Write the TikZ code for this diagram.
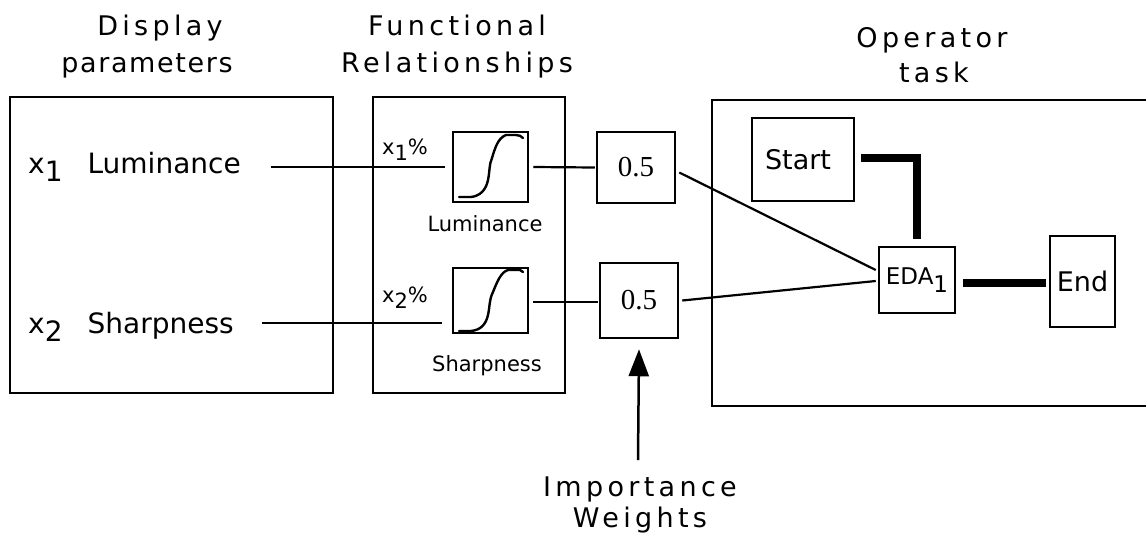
\documentclass[tikz,border=0pt]{standalone}
\usepackage{fontspec}
\setmainfont{DejaVu Sans}
\newfontfamily\serifnum{Liberation Serif}
\newfontfamily\headfont[LetterSpace=16]{DejaVu Sans}
\newfontfamily\headfontb[LetterSpace=6]{DejaVu Sans}
\usetikzlibrary{arrows.meta,calc}
\newcommand{\lowr}[1]{\raisebox{-0.32em}{#1}}
\begin{document}
\begin{tikzpicture}[x=1pt,y=-1pt,
  frame/.style={draw, line width=2.5pt, inner sep=0pt},
  smallbox/.style={draw, line width=2.5pt, inner sep=0pt, fill=white},
  head/.style={anchor=base, inner sep=0pt, font=\headfont\fontsize{27}{30}\selectfont},
  lbl/.style={anchor=base west, inner sep=0pt, font=\fontsize{28}{30}\selectfont},
  small/.style={inner sep=0pt, font=\fontsize{21}{24}\selectfont},
  thin/.style={line width=2.2pt},
  thick/.style={line width=8.5pt, line join=miter},
  curve/.style={line width=2.4pt, line cap=round, line join=round}
]
\useasboundingbox (0,0) rectangle (1146,536);

% headings
\node[head] (h1) at (160,35) {Display};
\node[head, font=\headfontb\fontsize{27}{30}\selectfont] (h2) at (147,72) {parameters};
\node[head] (h3) at (457,35) {Functional};
\node[head] (h4) at (457,72) {Relationships};
\node[head] (h5) at (932,47) {Operator};
\node[head] (h6) at (934,82) {task};
\node[head] (iw1) at (640,496) {Importance};
\node[head] (iw2) at (640,527) {Weights};

% outer boxes
\node[frame, minimum width=323pt, minimum height=296pt] (dp) at (171.5,245) {};
\node[frame, minimum width=192pt, minimum height=296pt] (fr) at (469,245) {};
\draw[line width=2.5pt] (1160,100) -- (712,100) -- (712,406) -- (1160,406);

% display parameters
\node[lbl] (lum) at (28,173) {x\lowr{1}\hspace{25pt}Luminance};
\node[lbl] (shp) at (28,333) {x\lowr{2}\hspace{25pt}Sharpness};

% functional boxes
\node[smallbox, minimum width=75pt, minimum height=70pt] (sig1) at (490.5,167) {};
\node[smallbox, minimum width=75pt, minimum height=65pt] (sig2) at (490.5,300.5) {};
\node[small] (sl1) at (485,224) {Luminance};
\node[small] (sl2) at (487,366) {Sharpness};
\node[small, anchor=base] (p1) at (405,154) {x\lowr{1}\%};
\node[small, anchor=base] (p2) at (405,302) {x\lowr{2}\%};

% sigmoid curves
\draw[curve] (459,197) -- (471,197) .. controls (480,196) and (486,190) .. (488,180)
  .. controls (490,170) and (489,165) .. (492,158)
  .. controls (495,148) and (498,138) .. (506,135) -- (516,135) .. controls (519,135) and (521,136) .. (523,138);
\draw[curve] (459,331) -- (471,331) .. controls (481,330) and (486,324) .. (488,315)
  .. controls (490,306) and (489,300) .. (493,292)
  .. controls (497,282) and (501,272) .. (508,270) -- (520,270) -- (523,272);

% weights
\node[smallbox, minimum width=78pt, minimum height=71pt, font=\serifnum\fontsize{29}{32}\selectfont] (w1) at (636,167.5) {0.5};
\node[smallbox, minimum width=78pt, minimum height=75pt, font=\serifnum\fontsize{29}{32}\selectfont] (w2) at (639,300.5) {0.5};

% operator task
\node[smallbox, minimum width=102pt, minimum height=83pt, font=\fontsize{27}{30}\selectfont] (st) at (803,159.5) {\hspace*{-10pt}\raisebox{-3pt}{Start}};
\node[smallbox, minimum width=76pt, minimum height=66pt, font=\fontsize{23}{25}\selectfont] (eda) at (917,280) {EDA\lowr{1}};
\node[smallbox, minimum width=65pt, minimum height=91pt, font=\fontsize{27}{30}\selectfont] (en) at (1082.5,281.5) {End};

% connectors
\coordinate (a1) at (445,167);
\coordinate (a2) at (442,323);
\draw[thin] ($(lum.east |- a1)+(30,0)$) -- (a1);
\draw[thin] ($(shp.east |- a2)+(28,0)$) -- (a2);
\draw[thin] ([xshift=4pt]sig1.east) -- ([xshift=-1pt]w1.west);
\draw[thin] ($(sig2.east |- 0,302)+(4,0)$) -- ($(w2.west |- 0,302)+(-1,0)$);
\draw[thin] ($(w1.east)+(3,5)$) -- ($(eda.west)+(-2,-10)$);
\draw[thin] ($(w2.east)+(3,0)$) -- ($(eda.west)+(-2,1)$);
\draw[thick] ($(st.east)+(6,-1.5)$) -| ($(eda.north)+(0,-7)$);
\draw[thick] ($(eda.east)+(7,3)$) -- ($(en.west)+(-3,1.5)$);

% importance arrow
\draw[line width=2.5pt, -{Triangle[length=27pt,width=20pt]}] ($(iw1.north)+(-2,-16)$) -- ([yshift=-10pt]w2.south);
\end{tikzpicture}
\end{document}
